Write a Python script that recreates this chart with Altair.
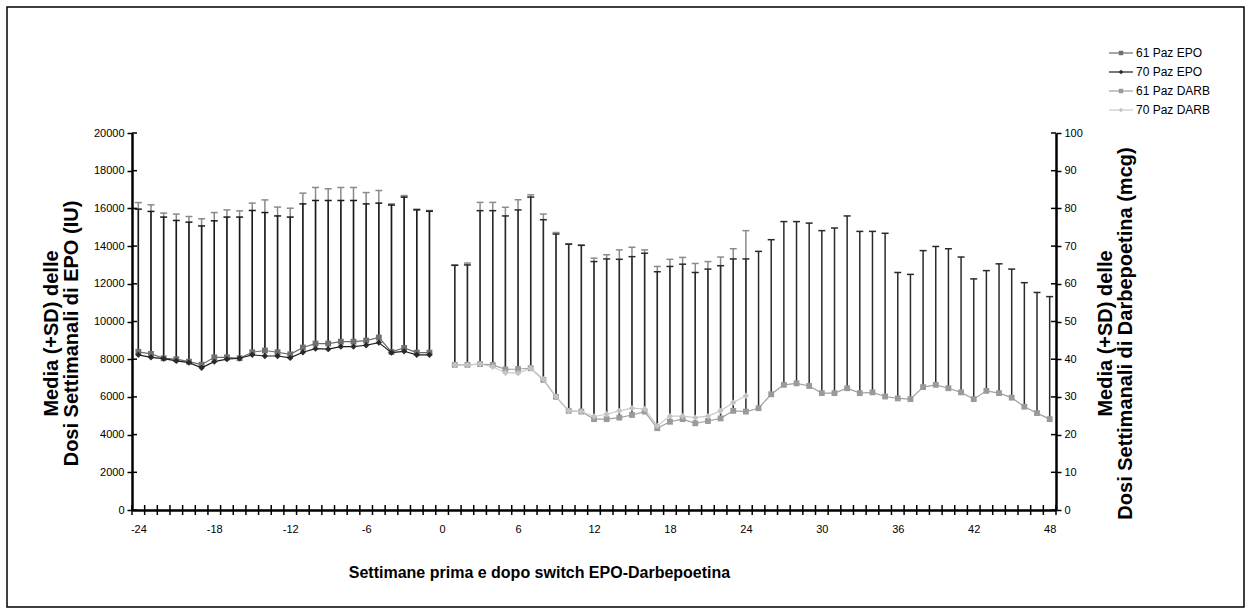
import altair as alt
import pandas as pd

FONT = "Liberation Sans"

# ---------------- data ----------------
epo_weeks = list(range(-24, 0))
epo61_mean = [8390, 8280, 8050, 8000, 7870, 7710, 8100, 8100, 8050, 8370, 8460, 8370,
              8260, 8620, 8830, 8830, 8930, 8930, 8990, 9150, 8390, 8600, 8350, 8350]
epo70_mean = [8230, 8100, 8030, 7910, 7820, 7540, 7870, 8000, 8050, 8230, 8170, 8170,
              8070, 8370, 8560, 8530, 8670, 8670, 8740, 8880, 8350, 8420, 8230, 8230]
epo61_upper = [16310, 16190, 15750, 15700, 15570, 15450, 15780, 15920, 15870, 16280, 16450, 16070,
               16010, 16810, 17110, 17040, 17110, 17110, 16840, 16950, 16240, 16680, 15960, 15890]
epo70_upper = [15960, 15840, 15540, 15360, 15270, 15070, 15340, 15540, 15540, 15890, 15780, 15600,
               15540, 16240, 16420, 16420, 16420, 16420, 16240, 16280, 16180, 16600, 15920, 15850]

darb61_weeks = list(range(1, 49))
darb61_mean = [38.5, 38.5, 38.7, 38.5, 37.3, 37.4, 37.6, 34.5, 30.0, 26.3,
               26.1, 24.1, 24.1, 24.5, 25.2, 26.1, 21.7, 23.4, 24.1, 23.0,
               23.6, 24.3, 26.3, 26.1, 27.0, 30.7, 33.2, 33.6, 32.9, 31.0,
               31.0, 32.3, 31.0, 31.2, 30.1, 29.6, 29.4, 32.6, 33.2, 32.3,
               31.2, 29.4, 31.6, 31.0, 29.8, 27.4, 25.7, 24.1]
darb61_upper = [64.9, 65.0, 79.4, 79.4, 78.0, 79.6, 83.0, 77.0, 73.2, 70.5,
                70.2, 65.9, 66.6, 66.5, 67.2, 68.1, 63.2, 64.6, 65.2, 63.0,
                63.9, 64.8, 66.6, 66.6, 68.6, 71.7, 76.5, 76.5, 76.1, 74.1,
                74.8, 78.0, 73.9, 73.9, 73.4, 63.0, 62.5, 68.8, 69.9, 69.3,
                67.1, 61.3, 63.5, 65.3, 63.9, 60.3, 57.7, 56.6]
darb70_weeks = list(range(1, 25))
darb70_mean = [38.5, 38.5, 38.7, 38.0, 36.4, 36.3, 37.6, 34.7, 30.1, 26.3,
               26.1, 24.8, 25.4, 26.3, 27.0, 26.8, 22.3, 24.9, 24.9, 24.5,
               24.9, 26.3, 28.5, 30.3]
darb70_upper = [65.0, 65.5, 81.6, 81.6, 80.3, 82.3, 83.6, 78.5, 73.6, 70.6,
                70.3, 66.8, 67.7, 69.0, 69.7, 69.0, 64.6, 66.5, 67.0, 65.4,
                65.9, 67.1, 69.3, 74.1]

legend_labels = ["61 Paz EPO", "70 Paz EPO", "61 Paz DARB", "70 Paz DARB"]
left_ticks = list(range(0, 20001, 2000))
right_ticks = list(range(0, 101, 10))
x_label_values = list(range(-24, 49, 6))
x_tick_positions = [w + 0.5 for w in range(-25, 49)]

# ---------------- layout ----------------
W, H = 924, 377
X_TITLE_SIZE = 16
Y_TITLE_SIZE = 20

xscale = alt.Scale(domain=[-24.5, 48.5], nice=False, zero=False)
xaxis = alt.Axis(values=x_label_values, ticks=True, tickSize=5, tickOpacity=0,
                 domainWidth=2.5, domainColor="black", grid=False,
                 labelExpr="'' + datum.value",
                 labelFont=FONT, labelFontSize=11, labelColor="black", labelPadding=8,
                 title="Settimane prima e dopo switch EPO-Darbepoetina",
                 titleFont=FONT, titleFontSize=X_TITLE_SIZE, titleFontWeight="bold", titleColor="black",
                 titleX=407, titleY=67, titleAlign="center", titleBaseline="alphabetic")

lscale = alt.Scale(domain=[0, 20000], nice=False, zero=True)
laxis = alt.Axis(values=left_ticks, tickSize=5, tickWidth=1.5, tickColor="black",
                 domainWidth=2.5, domainColor="black", grid=False,
                 labelExpr="'' + datum.value",
                 labelFont=FONT, labelFontSize=11, labelColor="black", labelPadding=3,
                 title=["Media (+SD) delle", "Dosi Settimanali di EPO (IU)"],
                 titleFont=FONT, titleFontSize=Y_TITLE_SIZE, titleFontWeight="bold", titleColor="black",
                 titleAngle=270, titleX=-91, titleY=200, titleAlign="center",
                 titleBaseline="top", titleLineHeight=20)

rscale = alt.Scale(domain=[0, 100], nice=False, zero=True)
raxis = alt.Axis(orient="right", values=right_ticks, tickSize=5, tickWidth=1.5, tickColor="black",
                 domainWidth=2.5, domainColor="black", grid=False,
                 labelExpr="'' + datum.value",
                 labelFont=FONT, labelFontSize=11, labelColor="black", labelPadding=3,
                 title=["Media (+SD) delle", "Dosi Settimanali di Darbepoetina (mcg)"],
                 titleFont=FONT, titleFontSize=Y_TITLE_SIZE, titleFontWeight="bold", titleColor="black",
                 titleAngle=270, titleX=39, titleY=200, titleAlign="center",
                 titleBaseline="top", titleLineHeight=20)


def X(field):
    return alt.X(field, type="quantitative", scale=xscale, axis=xaxis)


def YL(field):
    return alt.Y(field, type="quantitative", scale=lscale, axis=laxis)


def YR(field):
    return alt.Y(field, type="quantitative", scale=rscale, axis=raxis)


def bars(df, Yf, color):
    base = alt.Chart(df)
    stem = base.mark_rule(color=color, strokeWidth=1.5).encode(
        x=X("week"), y=Yf("mean"), y2="upper")
    cap = base.mark_rule(color=color, strokeWidth=1.5, xOffset=-3.5, x2Offset=3.5).encode(
        x=X("week"), x2="week", y=Yf("upper"))
    return [stem, cap]


def series(df, Yf, line_color, marker_color, shape, size):
    base = alt.Chart(df)
    line = base.mark_line(color=line_color, strokeWidth=1.2).encode(x=X("week"), y=Yf("mean"))
    pts = base.mark_point(shape=shape, filled=True, size=size, color=marker_color, opacity=1).encode(
        x=X("week"), y=Yf("mean"))
    return [line, pts]


df_e61 = pd.DataFrame({"week": epo_weeks, "mean": epo61_mean, "upper": epo61_upper})
df_e70 = pd.DataFrame({"week": epo_weeks, "mean": epo70_mean, "upper": epo70_upper})
df_d61 = pd.DataFrame({"week": darb61_weeks, "mean": darb61_mean, "upper": darb61_upper})
df_d70 = pd.DataFrame({"week": darb70_weeks, "mean": darb70_mean, "upper": darb70_upper})

C_E61_BAR, C_E70_BAR = "#8a8a8a", "#1a1a1a"
C_E61_LINE, C_E61_PT = "#6a6a6a", "#707070"
C_E70_LINE, C_E70_PT = "#1e1e1e", "#2a2a2a"
C_D61_BAR, C_D70_BAR = "#2a2a2a", "#8c8c8c"
C_D61_LINE, C_D61_PT = "#a0a0a0", "#9a9a9a"
C_D70_LINE, C_D70_PT = "#cacaca", "#c4c4c4"

# inner halves of the crossing tick marks
df_lt = pd.DataFrame({"v": left_ticks})
df_rt = pd.DataFrame({"v": right_ticks})
df_xt = pd.DataFrame({"t": x_tick_positions})
lt_inner = alt.Chart(df_lt).mark_rule(color="black", strokeWidth=1.5).encode(
    y=YL("v"), x=alt.value(0), x2=alt.value(5))
rt_inner = alt.Chart(df_rt).mark_rule(color="black", strokeWidth=1.5).encode(
    y=YR("v"), x=alt.value(W - 5), x2=alt.value(W))
xt = alt.Chart(df_xt).mark_rule(color="black", strokeWidth=1.5).encode(
    x=X("t"), y=alt.value(H - 5), y2=alt.value(H + 5))

one = pd.DataFrame({"k": [0]})

# outer frame of the whole chart
frame = alt.Chart(one).mark_rect(fill="white", fillOpacity=0, stroke="black", strokeWidth=1.5).encode(
    x=alt.value(-125), x2=alt.value(1112), y=alt.value(-126), y2=alt.value(474))

# manual legend (line + marker + label)
leg_specs = [
    (legend_labels[0], C_E61_LINE, C_E61_PT, "square"),
    (legend_labels[1], C_E70_LINE, C_E70_PT, "diamond"),
    (legend_labels[2], C_D61_LINE, C_D61_PT, "square"),
    (legend_labels[3], C_D70_LINE, C_D70_PT, "diamond"),
]
legend_layers = []
for i, (lab, lc, pc, shp) in enumerate(leg_specs):
    ly = -80 + i * 19
    legend_layers.append(alt.Chart(one).mark_rule(color=lc, strokeWidth=1.2).encode(
        x=alt.value(977), x2=alt.value(1001), y=alt.value(ly)))
    legend_layers.append(alt.Chart(one).mark_point(shape=shp, filled=True, size=20, color=pc, opacity=1).encode(
        x=alt.value(989), y=alt.value(ly)))
    legend_layers.append(alt.Chart(one).mark_text(align="left", baseline="middle", font=FONT,
                                                  fontSize=12, color="black").encode(
        x=alt.value(1004), y=alt.value(ly), text=alt.value(lab)))

left = alt.layer(
    *bars(df_e61, YL, C_E61_BAR),
    *bars(df_e70, YL, C_E70_BAR),
    *series(df_e61, YL, C_E61_LINE, C_E61_PT, "square", 34),
    *series(df_e70, YL, C_E70_LINE, C_E70_PT, "diamond", 40),
    lt_inner, xt, frame, *legend_layers,
)

right = alt.layer(
    *bars(df_d70, YR, C_D70_BAR),
    *bars(df_d61, YR, C_D61_BAR),
    *series(df_d61, YR, C_D61_LINE, C_D61_PT, "square", 34),
    *series(df_d70, YR, C_D70_LINE, C_D70_PT, "diamond", 40),
    rt_inner,
)

chart = alt.layer(left, right).resolve_scale(y="independent").properties(
    width=W, height=H,
    padding={"left": 132, "top": 133, "right": 1251 - 132 - W, "bottom": 615 - 133 - H},
    autosize=alt.AutoSizeParams(type="none"),
    background="white",
).configure_view(strokeWidth=0)

chart.save("out.html", embed_options={"renderer": "svg", "actions": False})
